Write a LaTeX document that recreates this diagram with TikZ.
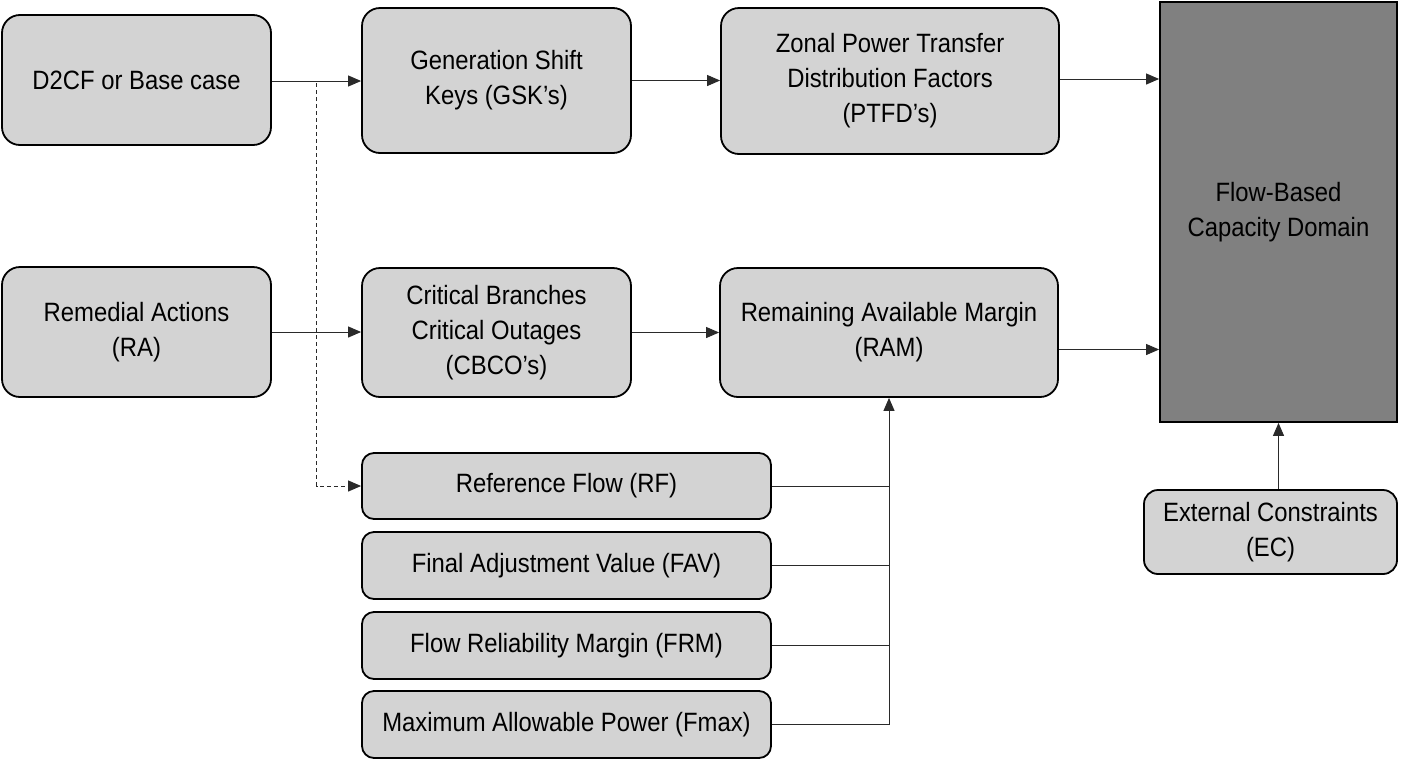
\documentclass[tikz,border=0pt]{standalone}
\usepackage{fontspec}
\setmainfont{Liberation Sans}[FakeStretch=0.9]
\usetikzlibrary{arrows.meta,calc}
\definecolor{boxgray}{HTML}{D3D3D3}
\definecolor{darkbox}{HTML}{808080}
\definecolor{linegray}{HTML}{2A2A2A}
\begin{document}
\begin{tikzpicture}[x=1pt,y=-1pt,
  every node/.style={font=\fontsize{26.5}{35}\selectfont, align=center, inner sep=0pt},
  bigbox/.style={draw=black, line width=1.8pt, fill=boxgray, rounded corners=18pt},
  smallbox/.style={draw=black, line width=1.8pt, fill=boxgray, rounded corners=12pt, minimum width=409pt, minimum height=66pt},
  conn/.style={draw=linegray, line width=1pt, -{Triangle[length=13pt,width=11pt]}},
  plain/.style={draw=linegray, line width=1pt},
  dashconn/.style={draw=linegray, line width=1pt, dash pattern=on 4pt off 3pt, -{Triangle[length=13pt,width=11pt]}}
]
\useasboundingbox (0,0) rectangle (1415,761);
\fill[white] (0,0) rectangle (1415,761);

\node[bigbox, minimum width=269pt, minimum height=130pt] (d2cf) at (136.5,80) {D2CF or Base case};
\node[bigbox, minimum width=269pt, minimum height=145pt] (gsk) at (496.5,80.5) {Generation Shift\\Keys (GSK’s)};
\node[bigbox, minimum width=338pt, minimum height=146pt] (ptfd) at (890,81) {Zonal Power Transfer\\Distribution Factors\\(PTFD’s)};
\node[draw=black, line width=1.8pt, fill=darkbox, minimum width=237pt, minimum height=420pt] (fb) at (1278.5,212) {Flow-Based\\Capacity Domain};

\node[bigbox, minimum width=269pt, minimum height=130pt] (ra) at (136.5,332) {Remedial Actions\\(RA)};
\node[bigbox, minimum width=269pt, minimum height=129pt] (cbco) at (496.5,332.5) {Critical Branches\\Critical Outages\\(CBCO’s)};
\node[bigbox, minimum width=338pt, minimum height=129pt] (ram) at (889,332.5) {Remaining Available Margin\\(RAM)};

\node[smallbox] (rf) at (566.5,486) {Reference Flow (RF)};
\node[smallbox, minimum height=67pt] (fav) at (566.5,565.5) {Final Adjustment Value (FAV)};
\node[smallbox, minimum height=67pt] (frm) at (566.5,645.5) {Flow Reliability Margin (FRM)};
\node[smallbox, minimum height=67pt] (fmax) at (566.5,724.5) {Maximum Allowable Power (Fmax)};

\node[bigbox, rounded corners=14pt, minimum width=253pt, minimum height=84pt] (ec) at (1270.5,532) {External Constraints\\(EC)};

% connectors
\draw[conn] ([yshift=-1pt]d2cf.east) -- ([yshift=-1pt]d2cf.east -| gsk.west);
\draw[conn] (gsk.east) -- (gsk.east -| ptfd.west);
\draw[conn] ([yshift=2pt]ptfd.east) -- ([yshift=2pt]ptfd.east -| fb.west);
\draw[conn] (ra.east) -- (ra.east -| cbco.west);
\draw[conn] (cbco.east) -- (cbco.east -| ram.west);
\draw[conn] ([yshift=-17pt]ram.east) -- ([yshift=-17pt]ram.east -| fb.west);
\draw[conn] (fb.south |- ec.north) -- (fb.south);

\coordinate (dstart) at ($(d2cf.east)!0.5!(gsk.west)+(0,3)$);
\draw[dashconn] (dstart) |- (rf.west);

\draw[plain] (rf.east) -- (rf.east -| ram.south);
\draw[plain] (fav.east) -- (fav.east -| ram.south);
\draw[plain] (frm.east) -- (frm.east -| ram.south);
\draw[plain] (fmax.east) -- (fmax.east -| ram.south);
\draw[conn] (fmax.east -| ram.south) -- (ram.south);
\end{tikzpicture}
\end{document}
